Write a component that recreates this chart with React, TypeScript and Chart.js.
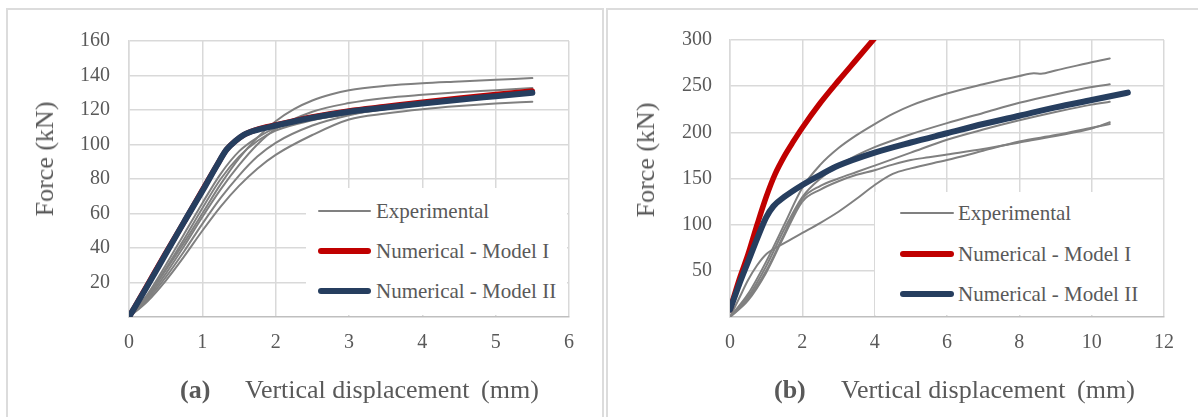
import React, { useEffect, useRef } from "react";
import { Chart, registerables } from "chart.js";

Chart.register(...registerables);

// ---------- data: panel (a) ----------
const aXTicks = [0, 1, 2, 3, 4, 5, 6];
const aYTicks = [20, 40, 60, 80, 100, 120, 140, 160];
const aExp1 = [[0,0],[0.25,12],[0.5,27],[0.75,43],[1,60],[1.25,77],[1.5,92],[1.75,104],[2,113.5],[2.25,120.5],[2.5,125.5],[2.75,129],[3,131.5],[3.5,134],[4,135.5],[4.5,136.5],[5,137.5],[5.5,138.5]];
const aExp2 = [[0,0],[0.25,11],[0.5,25],[0.75,41],[1,58],[1.25,74],[1.5,88],[1.75,100],[2,109],[2.5,119],[3,124],[3.5,127],[4,128.8],[4.5,130.3],[5,131.5],[5.5,132.8]];
const aExp3 = [[0,0],[0.25,12],[0.5,28],[0.75,45],[1,63],[1.25,80],[1.5,93],[1.75,102],[2,108],[2.5,114],[3,118],[3.5,121.5],[4,124.5],[4.5,127],[5,129.3],[5.5,131.5]];
const aExp4 = [[0,0],[0.25,10],[0.5,23],[0.75,38],[1,54],[1.25,69],[1.5,82],[1.75,93],[2,101],[2.5,111],[3,117],[3.5,121],[4,124],[4.5,126.5],[5,128.5],[5.5,130.5]];
const aExp5 = [[0,0],[0.25,9],[0.5,21],[0.75,35],[1,50],[1.25,64],[1.5,76],[1.75,86],[2,94],[2.5,105.5],[3,114.5],[3.5,118],[4,120.5],[4.5,122.3],[5,123.7],[5.5,124.8]];
const aExp6 = [[0,0],[0.25,13],[0.5,30],[0.75,48],[1,66],[1.25,83],[1.5,96],[1.75,104],[2,109.5],[2.5,114.5],[3,117.5],[3.5,120.5],[4,123],[4.5,125.5],[5,127.8],[5.5,130]];
const aModel1 = [[0,0],[0.25,18.5],[0.5,37],[0.75,55],[1,73.5],[1.2,88],[1.33,97],[1.45,102],[1.56,105.5],[1.75,108.8],[2,111.3],[2.5,116],[3,119.5],[3.5,122],[4,124.5],[4.5,126.8],[5,129],[5.5,131]];
const aModel2 = [[0,0],[0.25,18],[0.5,36.5],[0.75,55],[1,73],[1.2,88],[1.33,97],[1.45,102],[1.56,105.5],[1.75,108.5],[2,111],[2.5,115.5],[3,119],[3.5,121.5],[4,123.8],[4.5,126],[5,128],[5.5,130]];

// ---------- data: panel (b) ----------
const bXTicks = [0, 2, 4, 6, 8, 10, 12];
const bYTicks = [50, 100, 150, 200, 250, 300];
const bExpA = [[0,0],[0.5,25],[1,60],[1.5,100],[2,140],[2.5,165],[3,183],[3.5,197],[4,209],[4.5,220],[5,229],[6,242],[7,252],[8,261],[8.4,264],[8.6,263.5],[9,267],[10,276],[10.5,280]];
const bExpB = [[0,0],[0.5,22],[1,55],[1.5,95],[2,130],[2.5,150],[3,164],[3.5,175],[4,184],[5,198],[6,210],[7,221],[8,232],[9,241],[10,249],[10.5,252]];
const bExpC = [[0,0],[0.5,20],[1,50],[1.5,90],[2,128],[2.5,142],[3,150],[3.5,157],[4,164],[5,178],[6,192],[7,203],[8,213],[9,222],[10,230],[10.5,233]];
const bExpD = [[0,0],[0.5,18],[1,48],[1.5,88],[2,125],[2.5,138],[3,147],[3.5,154],[4,159],[4.5,165],[5,170],[5.5,173],[6,176],[7,182],[8,189],[9,196],[10,204],[10.5,211]];
const bExpE = [[0,0],[0.25,20],[0.5,40],[0.75,56],[1,68],[1.5,80],[2,91],[2.5,102],[3,114],[3.5,128],[4,143],[4.5,155],[5,161],[6,170],[7,180],[8,190],[9,197],[10,205],[10.5,209]];
const bModel1 = [[0,8],[0.25,40],[0.5,68],[0.75,100],[1,130],[1.25,155],[1.5,174],[1.75,190],[2,205],[2.5,232],[3,256],[3.5,279],[4,302]];
const bModel2 = [[0,8],[0.25,35],[0.5,60],[0.75,85],[1,108],[1.2,120],[1.5,130],[2,143],[2.5,154],[3,164],[4,178],[5,189],[6,199],[7,209],[8,218],[9,227],[10,235],[11,243]];

const legendLabels = ["Experimental", "Numerical - Model I", "Numerical - Model II"];

const FONT = "'Liberation Serif', 'Times New Roman', serif";
const TEXT = "#595959";
const GRID = "#d9d9d9";
const GRAY = "#808080";
const RED = "#c00000";
const NAVY = "#263e5f";

const toXY = (arr: number[][]) => arr.map(([x, y]) => ({ x, y }));

function ds(data: number[][], color: string, width: number, order: number, clip?: number) {
  const d: any = {
    data: toXY(data),
    borderColor: color,
    backgroundColor: color,
    borderWidth: width,
    pointRadius: 0,
    cubicInterpolationMode: "monotone",
    borderCapStyle: "round",
    borderJoinStyle: "round",
    fill: false,
    order,
  };
  if (clip !== undefined) d.clip = clip;
  return d;
}

type ChartSpec = {
  datasets: any[];
  xTicks: number[];
  yTicks: number[];
  xMax: number;
  yMax: number;
  yAxisWidth: number;
  padRight: number;
  yPad: number;
};

function makeConfig(s: ChartSpec): any {
  return {
    type: "line",
    data: { datasets: s.datasets },
    options: {
      responsive: false,
      animation: false,
      events: [],
      layout: { padding: { left: 0, top: 30, right: s.padRight, bottom: 0 } },
      plugins: { legend: { display: false }, tooltip: { enabled: false } },
      scales: {
        x: {
          type: "linear",
          min: 0,
          max: s.xMax,
          afterBuildTicks: (sc: any) => {
            sc.ticks = s.xTicks.map((v) => ({ value: v }));
          },
          afterFit: (sc: any) => {
            sc.height = 100;
          },
          grid: { color: GRID, lineWidth: 1.5, drawTicks: false },
          border: { color: "#bfbfbf", width: 1.5 },
          ticks: {
            padding: 14,
            color: TEXT,
            font: { family: FONT, size: 20 },
            maxRotation: 0,
          },
        },
        y: {
          type: "linear",
          min: 0,
          max: s.yMax,
          afterBuildTicks: (sc: any) => {
            sc.ticks = s.yTicks.map((v) => ({ value: v }));
          },
          afterFit: (sc: any) => {
            sc.width = s.yAxisWidth;
          },
          grid: { color: GRID, lineWidth: 1.5, drawTicks: false },
          border: { color: GRID, width: 1.5 },
          ticks: {
            padding: s.yPad,
            color: TEXT,
            font: { family: FONT, size: 20 },
          },
        },
      },
    },
  };
}

function ChartCanvas({ spec, width, height }: { spec: ChartSpec; width: number; height: number }) {
  const ref = useRef<HTMLCanvasElement | null>(null);
  useEffect(() => {
    if (!ref.current) return;
    const chart = new Chart(ref.current, makeConfig(spec));
    return () => chart.destroy();
  }, []);
  return <canvas ref={ref} width={width} height={height} style={{ display: "block", width, height }} />;
}

const specA: ChartSpec = {
  datasets: [
    ds(aModel2, NAVY, 6, 0),
    ds(aModel1, RED, 5.5, 1),
    ds(aExp1, GRAY, 2, 2),
    ds(aExp2, GRAY, 2, 2),
    ds(aExp3, GRAY, 2, 2),
    ds(aExp4, GRAY, 2, 2),
    ds(aExp5, GRAY, 2, 2),
    ds(aExp6, GRAY, 2, 2),
  ],
  xTicks: aXTicks,
  yTicks: aYTicks,
  xMax: 6,
  yMax: 160,
  yAxisWidth: 121,
  padRight: 33,
  yPad: 19,
};

const specB: ChartSpec = {
  datasets: [
    ds(bModel2, NAVY, 6, 0),
    ds(bModel1, RED, 5.5, 1, 0),
    ds(bExpA, GRAY, 2, 2),
    ds(bExpB, GRAY, 2, 2),
    ds(bExpC, GRAY, 2, 2),
    ds(bExpD, GRAY, 2, 2),
    ds(bExpE, GRAY, 2, 2),
  ],
  xTicks: bXTicks,
  yTicks: bYTicks,
  xMax: 12,
  yMax: 300,
  yAxisWidth: 122,
  padRight: 34,
  yPad: 18,
};

const legendStyles = [
  { color: GRAY, h: 2.5 },
  { color: RED, h: 6 },
  { color: NAVY, h: 6 },
];

function Legend({ box, lineX, lineW, textX, rows }: { box: number[]; lineX: number; lineW: number; textX: number; rows: number[] }) {
  return (
    <>
      <div style={{ position: "absolute", left: box[0], top: box[1], width: box[2] - box[0], height: box[3] - box[1], background: "#fff" }} />
      {legendLabels.map((lab, i) => (
        <React.Fragment key={lab}>
          <div
            style={{
              position: "absolute",
              left: lineX,
              top: rows[i] - legendStyles[i].h / 2,
              width: lineW,
              height: legendStyles[i].h,
              background: legendStyles[i].color,
              borderRadius: legendStyles[i].h / 2,
            }}
          />
          <div
            style={{
              position: "absolute",
              left: textX,
              top: rows[i],
              transform: "translateY(-50%)",
              fontFamily: FONT,
              fontSize: 21,
              lineHeight: 1,
              color: TEXT,
              whiteSpace: "nowrap",
            }}
          >
            {lab}
          </div>
        </React.Fragment>
      ))}
    </>
  );
}

function Caption({ tag, tagX, textX, y }: { tag: string; tagX: number; textX: number; y: number }) {
  const base: React.CSSProperties = {
    position: "absolute",
    top: y,
    transform: "translateY(-50%)",
    fontFamily: FONT,
    fontSize: 26,
    lineHeight: 1,
    color: TEXT,
    whiteSpace: "nowrap",
  };
  return (
    <>
      <div style={{ ...base, left: tagX, fontWeight: "bold" }}>{tag}</div>
      <div style={{ ...base, left: textX }}>
        Vertical displacement<span style={{ marginLeft: 5 }}> (mm)</span>
      </div>
    </>
  );
}

function YTitle({ cx, cy }: { cx: number; cy: number }) {
  return (
    <div
      style={{
        position: "absolute",
        left: cx,
        top: cy,
        transform: "translate(-50%, -50%) rotate(-90deg)",
        fontFamily: FONT,
        fontSize: 26,
        lineHeight: 1,
        color: TEXT,
        whiteSpace: "nowrap",
      }}
    >
      Force (kN)
    </div>
  );
}

export default function App() {
  return (
    <div style={{ position: "absolute", left: 0, top: 0, width: 1198, height: 417, overflow: "hidden", background: "#fff" }}>
      <div style={{ position: "absolute", left: 6, top: 8, width: 594, height: 420, border: "2px solid #dcdcdc" }} />
      <div style={{ position: "absolute", left: 606, top: 8, width: 600, height: 420, border: "2px solid #dcdcdc" }} />

      <div style={{ position: "absolute", left: 8, top: 10 }}>
        <ChartCanvas spec={specA} width={594} height={407} />
      </div>
      <div style={{ position: "absolute", left: 608, top: 10 }}>
        <ChartCanvas spec={specB} width={590} height={407} />
      </div>

      <Legend box={[306, 188, 567, 315]} lineX={318} lineW={53} textX={376} rows={[211, 251, 291]} />
      <Legend box={[875, 192, 1163, 315]} lineX={900} lineW={54} textX={958} rows={[213, 254, 294]} />

      <YTitle cx={45} cy={159} />
      <YTitle cx={646} cy={160} />

      <Caption tag="(a)" tagX={180} textX={245} y={390} />
      <Caption tag="(b)" tagX={774} textX={841} y={390} />
    </div>
  );
}
